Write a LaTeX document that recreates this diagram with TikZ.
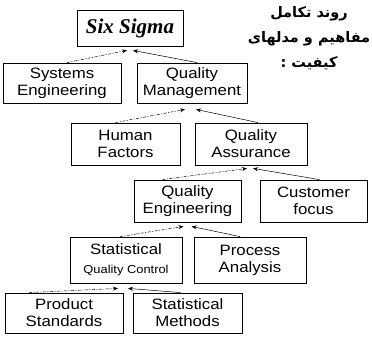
\documentclass[tikz,border=0pt]{standalone}
\usepackage{fontspec}
\setmainfont{Liberation Sans}[FakeStretch=1.12]
\newfontfamily\serifbf{Liberation Serif}
\newfontfamily\arabicfont[Script=Arabic]{DejaVu Sans}
\TeXXeTstate=1
\usetikzlibrary{calc,arrows.meta}
\begin{document}
\begin{tikzpicture}[x=1pt,y=-1pt,
  box/.style={draw=black,line width=0.8pt,align=center,inner sep=0pt,
    font=\fontsize{15}{17}\selectfont},
  arr/.style={-{Stealth[length=5pt,width=4pt]},line width=0.5pt},
  arrd/.style={arr,dash pattern=on 3pt off 1.5pt on 1pt off 1.5pt}]
\useasboundingbox (0,0) rectangle (372,343);
\node[box,minimum width=106pt,minimum height=36pt,font=\serifbf\bfseries\itshape\fontsize{21}{24}\selectfont] (ss) at (130,28) {Six Sigma};
\node[box,minimum width=118pt,minimum height=40pt] (se) at (62,83) {Systems\\Engineering};
\node[box,minimum width=110pt,minimum height=40pt] (qm) at (192,83) {Quality\\Management};
\node[box,minimum width=109pt,minimum height=42pt] (hf) at (125.5,144) {Human\\Factors};
\node[box,minimum width=112pt,minimum height=42pt] (qa) at (251,144) {Quality\\Assurance};
\node[box,minimum width=107pt,minimum height=42pt] (qe) at (187.5,201) {Quality\\Engineering};
\node[box,minimum width=107pt,minimum height=42pt] (cf) at (313.5,201) {Customer\\focus};
\node[box,minimum width=112pt,minimum height=46pt] (sqc) at (126,260) {Statistical\\[2pt]{\fontsize{11.5}{13}\selectfont Quality Control}};
\node[box,minimum width=112pt,minimum height=46pt] (pa) at (250,260) {Process\\Analysis};
\node[box,minimum width=118pt,minimum height=40pt] (ps) at (64,313) {Product\\Standards};
\node[box,minimum width=109pt,minimum height=40pt] (sm) at (187.5,313) {Statistical\\Methods};
\node[font=\arabicfont\bfseries\fontsize{14.5}{25}\selectfont,align=center,inner sep=0pt] (title) at (309,38)
  {\beginR روند تکامل\endR\\\beginR مفاهیم و مدلهای\endR\\\beginR کیفیت :\endR};
\draw[arrd] ($(se.north)+(5,0)$) -- ($(ss.south)+(-3,4)$);
\draw[arr] ($(qm.north)+(5,0)$) -- ($(ss.south)+(3,4)$);
\draw[arrd] ($(hf.north)+(-10,0)$) -- ($(qm.south)+(-7,6)$);
\draw[arr] ($(qa.north)+(7,0)$) -- ($(qm.south)+(4,6)$);
\draw[arrd] ($(qe.north)+(-25,0)$) -- ($(qa.south)+(-4,3)$);
\draw[arr] ($(cf.north)+(6,0)$) -- ($(qa.south)+(2,3)$);
\draw[arrd] ($(sqc.north)+(-6,0)$) -- ($(qe.south)+(-4,4)$);
\draw[arr] ($(pa.north)+(-10,0)$) -- ($(qe.south)+(4,4)$);
\draw[arrd] ($(ps.north)+(-35,0)$) -- ($(sqc.south)+(-8,5)$);
\draw[arr] ($(sm.north)+(-7,0)$) -- ($(sqc.south)+(2,5)$);
\end{tikzpicture}
\end{document}
